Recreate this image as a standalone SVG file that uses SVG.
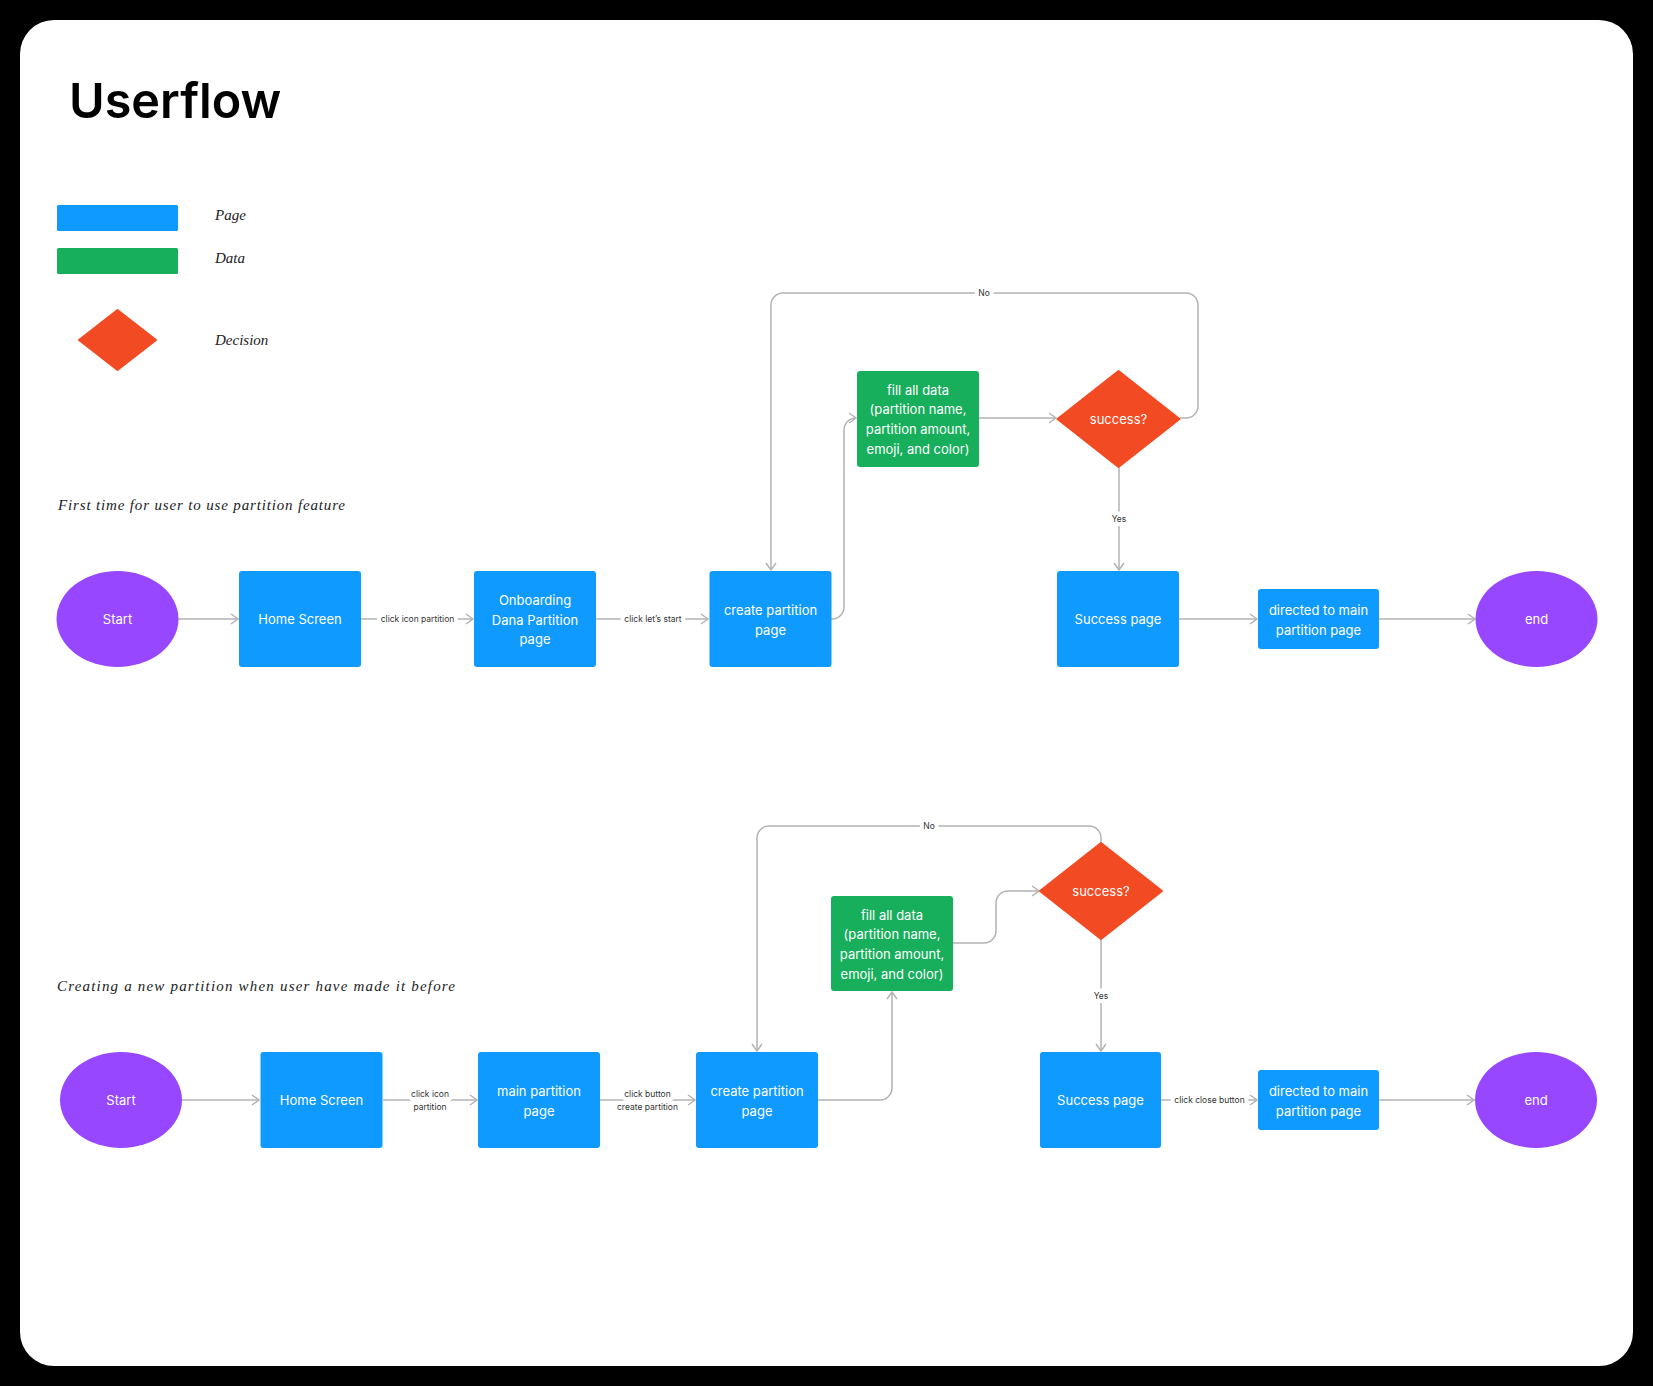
<svg xmlns="http://www.w3.org/2000/svg" width="1653" height="1386" viewBox="0 0 1653 1386">
<defs>
<style>
.page{fill:#0F9AFF}
.data{fill:#17AE5C}
.dec{fill:#F24A22}
.term{fill:#9747FF}
.nt{font-family:Inter,"Liberation Sans",sans-serif;font-size:13px;fill:#fff;text-anchor:middle;dominant-baseline:central}
.cl{fill:none;stroke:#B3B3B3;stroke-width:1.5}
.lb{font-family:Inter,"Liberation Sans",sans-serif;font-size:8.5px;fill:#333;text-anchor:middle;dominant-baseline:central;stroke:#fff;stroke-width:8;paint-order:stroke;stroke-linejoin:round}
.hw{font-family:"Liberation Serif",serif;font-style:italic;font-size:15px;fill:#222}
</style>
<marker id="ar" viewBox="0 0 10 12" refX="8.5" refY="6" markerWidth="10" markerHeight="12" markerUnits="userSpaceOnUse" orient="auto">
<path d="M1.5,1 L8.5,6 L1.5,11" fill="none" stroke="#B3B3B3" stroke-width="1.5"/>
</marker>
</defs>
<rect x="0" y="0" width="1653" height="1386" fill="#000"/>
<rect x="20" y="20" width="1613" height="1346" rx="34" fill="#fff"/>
<text x="69" y="118" font-family="Inter,'Liberation Sans',sans-serif" font-weight="600" font-size="48.5" fill="#000">Userflow</text>

<g id="legend">
<rect x="57" y="205" width="121" height="26" rx="1.5" class="page"/>
<rect x="57" y="248" width="121" height="26" rx="1.5" class="data"/>
<path d="M117.5,310 L156,340 L117.5,370 L79,340 Z" class="dec" stroke="#F24A22" stroke-width="2" stroke-linejoin="round"/>
<text x="215" y="220" class="hw">Page</text>
<text x="215" y="263" class="hw">Data</text>
<text x="215" y="345" class="hw">Decision</text>
</g>

<text x="58" y="510" class="hw" textLength="287" lengthAdjust="spacing">First time for user to use partition feature</text>
<text x="57" y="991" class="hw" textLength="398" lengthAdjust="spacing">Creating a new partition when user have made it before</text>

<g id="connectors">
<path class="cl" marker-end="url(#ar)" d="M178,619 H238"/>
<path class="cl" marker-end="url(#ar)" d="M361,619 H473"/>
<path class="cl" marker-end="url(#ar)" d="M596,619 H708"/>
<path class="cl" marker-end="url(#ar)" d="M831,619 H832 A12,12 0 0 0 844,607 V430 A12,12 0 0 1 856,418"/>
<path class="cl" marker-end="url(#ar)" d="M979,418 H1056"/>
<path class="cl" marker-end="url(#ar)" d="M1180,418 H1186 A12,12 0 0 0 1198,406 V305 A12,12 0 0 0 1186,293 H783 A12,12 0 0 0 771,305 V570"/>
<path class="cl" marker-end="url(#ar)" d="M1119,467 V570"/>
<path class="cl" marker-end="url(#ar)" d="M1179,619 H1257"/>
<path class="cl" marker-end="url(#ar)" d="M1379,619 H1475"/>
<text class="lb" x="417.5" y="619">click icon partition</text>
<text class="lb" x="653" y="619">click let’s start</text>
<text class="lb" x="984" y="293">No</text>
<text class="lb" x="1119" y="519">Yes</text>

<path class="cl" marker-end="url(#ar)" d="M182,1100 H259"/>
<path class="cl" marker-end="url(#ar)" d="M383,1100 H477"/>
<path class="cl" marker-end="url(#ar)" d="M600,1100 H695"/>
<path class="cl" marker-end="url(#ar)" d="M818,1100 H880 A12,12 0 0 0 892,1088 V992"/>
<path class="cl" marker-end="url(#ar)" d="M953,943 H984 A12,12 0 0 0 996,931 V903 A12,12 0 0 1 1008,891 H1039"/>
<path class="cl" marker-end="url(#ar)" d="M1101,843 V838 A12,12 0 0 0 1089,826 H769 A12,12 0 0 0 757,838 V1051"/>
<path class="cl" marker-end="url(#ar)" d="M1101,939 V1051"/>
<path class="cl" marker-end="url(#ar)" d="M1161,1100 H1257"/>
<path class="cl" marker-end="url(#ar)" d="M1379,1100 H1474"/>
<text class="lb" x="430" y="1094">click icon</text>
<text class="lb" x="430" y="1107">partition</text>
<text class="lb" x="647.5" y="1094">click button</text>
<text class="lb" x="647.5" y="1107">create partition</text>
<text class="lb" x="929" y="826">No</text>
<text class="lb" x="1101" y="996">Yes</text>
<text class="lb" x="1209.5" y="1100">click close button</text>
</g>

<g id="r1-start"><ellipse cx="117.5" cy="619" rx="61" ry="48" class="term"/><text class="nt" x="117.5" y="619">Start</text></g>
<g id="r1-home"><rect x="239" y="571" width="122" height="96" rx="3" class="page"/><text class="nt" x="300" y="619">Home Screen</text></g>
<g id="r1-onboarding"><rect x="474" y="571" width="122" height="96" rx="3" class="page"/><text class="nt" x="535" y="600">Onboarding</text><text class="nt" x="535" y="619.5">Dana Partition</text><text class="nt" x="535" y="639">page</text></g>
<g id="r1-create"><rect x="709.5" y="571" width="122" height="96" rx="3" class="page"/><text class="nt" x="770.5" y="610">create partition</text><text class="nt" x="770.5" y="629.5">page</text></g>
<g id="r1-fill"><rect x="857" y="371" width="122" height="96" rx="3" class="data"/><text class="nt" x="918" y="389.5">fill all data</text><text class="nt" x="918" y="409">(partition name,</text><text class="nt" x="918" y="429">partition amount,</text><text class="nt" x="918" y="448.5">emoji, and color)</text></g>
<g id="r1-success"><path d="M1118.5,371 L1179.5,419 L1118.5,467 L1057.5,419 Z" class="dec" stroke="#F24A22" stroke-width="2" stroke-linejoin="round"/><text class="nt" x="1118.5" y="419">success?</text></g>
<g id="r1-successpage"><rect x="1057" y="571" width="122" height="96" rx="3" class="page"/><text class="nt" x="1118" y="619">Success page</text></g>
<g id="r1-directed"><rect x="1258" y="589" width="121" height="60" rx="3" class="page"/><text class="nt" x="1318.5" y="609.5">directed to main</text><text class="nt" x="1318.5" y="629.5">partition page</text></g>
<g id="r1-end"><ellipse cx="1536.5" cy="619" rx="61" ry="48" class="term"/><text class="nt" x="1536.5" y="619">end</text></g>

<g id="r2-start"><ellipse cx="121" cy="1100" rx="61" ry="48" class="term"/><text class="nt" x="121" y="1100">Start</text></g>
<g id="r2-home"><rect x="260.5" y="1052" width="122" height="96" rx="3" class="page"/><text class="nt" x="321.5" y="1100">Home Screen</text></g>
<g id="r2-main"><rect x="478" y="1052" width="122" height="96" rx="3" class="page"/><text class="nt" x="539" y="1091">main partition</text><text class="nt" x="539" y="1110.5">page</text></g>
<g id="r2-create"><rect x="696" y="1052" width="122" height="96" rx="3" class="page"/><text class="nt" x="757" y="1091">create partition</text><text class="nt" x="757" y="1110.5">page</text></g>
<g id="r2-fill"><rect x="831" y="896" width="122" height="95" rx="3" class="data"/><text class="nt" x="892" y="914.5">fill all data</text><text class="nt" x="892" y="934">(partition name,</text><text class="nt" x="892" y="954">partition amount,</text><text class="nt" x="892" y="973.5">emoji, and color)</text></g>
<g id="r2-success"><path d="M1101,843 L1162,891 L1101,939 L1040,891 Z" class="dec" stroke="#F24A22" stroke-width="2" stroke-linejoin="round"/><text class="nt" x="1101" y="891">success?</text></g>
<g id="r2-successpage"><rect x="1040" y="1052" width="121" height="96" rx="3" class="page"/><text class="nt" x="1100.5" y="1100">Success page</text></g>
<g id="r2-directed"><rect x="1258" y="1070" width="121" height="60" rx="3" class="page"/><text class="nt" x="1318.5" y="1091">directed to main</text><text class="nt" x="1318.5" y="1111">partition page</text></g>
<g id="r2-end"><ellipse cx="1536" cy="1100" rx="61" ry="48" class="term"/><text class="nt" x="1536" y="1100">end</text></g>
</svg>
